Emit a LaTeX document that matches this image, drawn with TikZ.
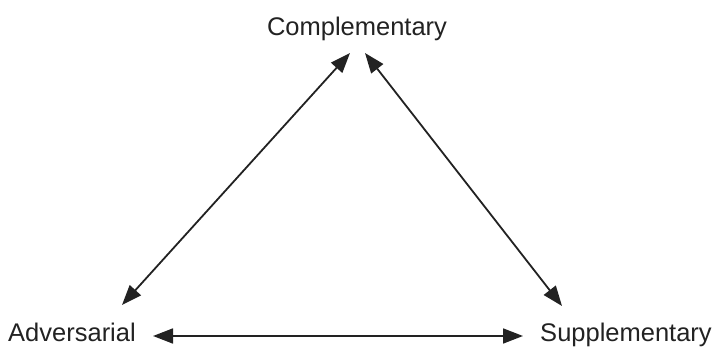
\documentclass[tikz,border=0pt]{standalone}
\usepackage{fontspec}
\setmainfont{Liberation Sans}
\usetikzlibrary{arrows.meta}
\definecolor{ink}{HTML}{222222}
\begin{document}
\begin{tikzpicture}[x=1pt,y=-1pt,
  lbl/.style={inner sep=0pt, text=ink, font=\fontsize{25.5}{28}\selectfont, anchor=base},
  link/.style={draw=ink, line width=1.8pt, {Triangle[length=20pt,width=15pt]}-{Triangle[length=20pt,width=15pt]}}]
\useasboundingbox (0,0) rectangle (713,347);
\node[lbl] (comp) at (357,36) {Complementary};
\node[lbl] (adv) at (72,342) {Adversarial};
\node[lbl] (sup) at (626,342) {Supplementary};
\coordinate (cl) at (350,53);
\coordinate (cr) at (365,53);
\coordinate (al) at (122,305);
\coordinate (sr) at (562,306);
\coordinate (ab) at (153,336);
\coordinate (sb) at (523,336);
\draw[link] (al) -- (cl);
\draw[link] (cr) -- (sr);
\draw[link] (ab) -- (sb);
\end{tikzpicture}
\end{document}
